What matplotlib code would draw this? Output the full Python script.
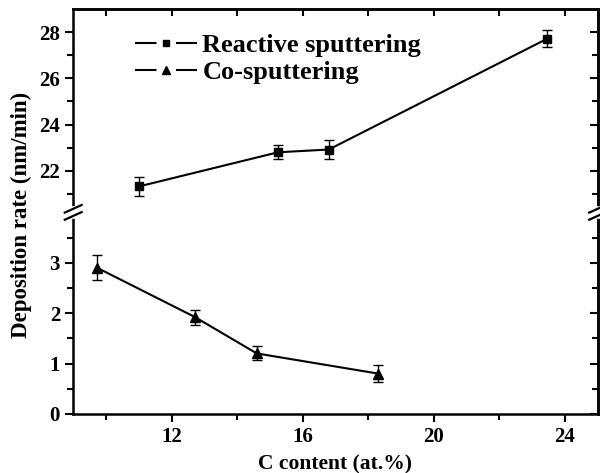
import matplotlib.pyplot as plt
from matplotlib.lines import Line2D

plt.rcParams['font.family'] = ['Liberation Serif', 'DejaVu Serif']
plt.rcParams['font.weight'] = 'bold'
plt.rcParams['lines.scale_dashes'] = False

# Data
react_x = [11.0, 15.25, 16.8, 23.47]
react_y = [21.32, 22.8, 22.92, 27.72]
react_err = [0.42, 0.3, 0.42, 0.35]

cosp_x = [9.73, 12.72, 14.6, 18.3]
cosp_y = [2.9, 1.92, 1.2, 0.8]
cosp_err = [0.25, 0.15, 0.14, 0.17]

labels = ['Reactive sputtering', 'Co-sputtering']

fig = plt.figure(figsize=(6, 4.73), dpi=100)
left, right = 0.122, 0.996
bot, brk, top = 0.125, 0.551, 0.981
ax_top = fig.add_axes([left, brk, right - left, top - brk])
ax_bot = fig.add_axes([left, bot, right - left, brk - bot], sharex=ax_top)

ekw = dict(color='black', lw=1.5, ecolor='black', elinewidth=1.0, capsize=3.5, capthick=1.0)
ax_top.errorbar(react_x, react_y, yerr=react_err, marker='s', ms=5.5, **ekw)
ax_bot.errorbar(cosp_x, cosp_y, yerr=cosp_err, marker='^', ms=7, **ekw)

ax_top.set_ylim(20.2, 29.0)
ax_bot.set_ylim(0, 4.0)
ax_bot.set_xlim(9, 25)

ax_top.set_yticks([22, 24, 26, 28])
ax_top.set_yticks([21, 23, 25, 27], minor=True)
ax_bot.set_yticks([0, 1, 2, 3])
ax_bot.set_yticks([0.5, 1.5, 2.5, 3.5], minor=True)
ax_bot.set_xticks([12, 16, 20, 24])
ax_bot.set_xticks([10, 14, 18, 22], minor=True)

for ax in (ax_top, ax_bot):
    for s in ax.spines.values():
        s.set_linewidth(1.8)
    ax.tick_params(which='both', direction='out', width=1.5, labelsize=15)
    ax.tick_params(which='major', length=6)
    ax.tick_params(which='minor', length=4)
    # inward ticks on the right spine
    sec = ax.secondary_yaxis('right')
    sec.set_yticks(ax.get_yticks())
    sec.set_yticks(ax.get_yticks(minor=True), minor=True)
    sec.spines['right'].set_linewidth(1.8)
    sec.tick_params(which='both', direction='in', width=1.5, labelright=False)
    sec.tick_params(which='major', length=6)
    sec.tick_params(which='minor', length=4)

ax_top.spines['bottom'].set_visible(False)
ax_bot.spines['top'].set_visible(False)
ax_top.tick_params(which='both', bottom=False, labelbottom=False)

# inward ticks on the top spine
sec_x = ax_top.secondary_xaxis('top')
sec_x.set_xticks([10, 12, 14, 16, 18, 20, 22, 24])
sec_x.spines['top'].set_linewidth(1.8)
sec_x.tick_params(direction='in', length=5, width=1.5, labeltop=False)

for lab in ax_top.get_yticklabels() + ax_bot.get_yticklabels() + ax_bot.get_xticklabels():
    lab.set_fontweight('bold')

# break marks on both spines
for xx in (left, right):
    fig.lines.append(Line2D([xx, xx], [brk - 0.007, brk + 0.007], transform=fig.transFigure,
                            color='white', lw=4, zorder=5))
    for off in (-0.0075, 0.0075):
        fig.lines.append(Line2D([xx - 0.014, xx + 0.014], [brk - 0.008 + off, brk + 0.008 + off],
                                transform=fig.transFigure, color='black', lw=1.6, zorder=6))

ax_bot.set_xlabel('C content (at.%)', fontsize=15.5, fontweight='bold', labelpad=5)
fig.text(0.036, 0.545, 'Deposition rate (nm/min)', rotation=90, va='center', ha='center',
         fontsize=16.5, fontweight='bold')

# legend: line - gap - marker - gap - line
handles = []
for m, ms in (('s', 5), ('^', 6)):
    seg = Line2D([], [], color='black', lw=1.5, dashes=(15.5, 14))
    mk = Line2D([], [], color='black', ls='none', marker=m, ms=ms)
    handles.append((seg, mk))
ax_top.legend(handles, labels, loc='upper left', bbox_to_anchor=(0.118, 0.88), frameon=False,
              prop={'weight': 'bold', 'size': 19}, handlelength=2.35, handletextpad=0.2,
              labelspacing=0.15, borderpad=0.0, borderaxespad=0.0)

fig.savefig('out.png', dpi=100)
